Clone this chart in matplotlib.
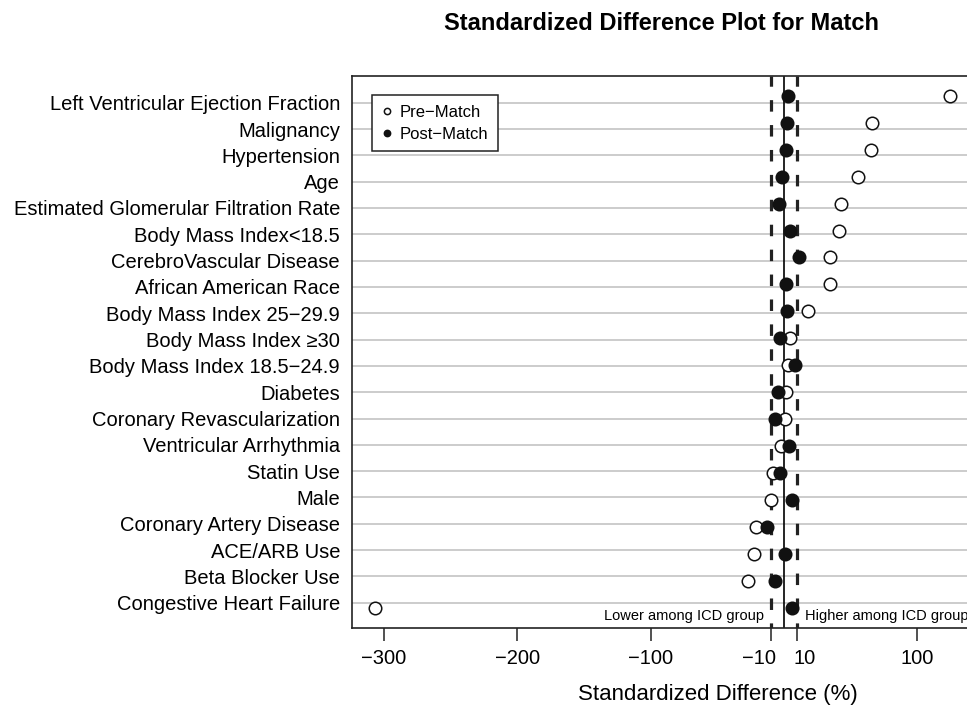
import matplotlib
matplotlib.use('Agg')
import matplotlib.pyplot as plt
from matplotlib.transforms import ScaledTranslation

plt.rcParams['font.family'] = ['Liberation Sans', 'DejaVu Sans']

variables = ["Left Ventricular Ejection Fraction", "Malignancy", "Hypertension", "Age",
             "Estimated Glomerular Filtration Rate", "Body Mass Index<18.5",
             "CerebroVascular Disease", "African American Race",
             "Body Mass Index 25\u221229.9", "Body Mass Index \u226530",
             "Body Mass Index 18.5\u221224.9", "Diabetes", "Coronary Revascularization",
             "Ventricular Arrhythmia", "Statin Use", "Male", "Coronary Artery Disease",
             "ACE/ARB Use", "Beta Blocker Use", "Congestive Heart Failure"]
pre_match = [124.5, 66.0, 65.5, 55.5, 42.5, 41.0, 34.5, 34.5, 18.3, 4.3,
             2.8, 1.3, 1.0, -1.8, -8.5, -9.3, -20.8, -22.5, -26.8, -307.0]
post_match = [3.2, 2.5, 1.7, -1.3, -3.5, 4.3, 11.0, 1.5, 2.3, -3.0,
              8.5, -4.5, -6.8, 4.0, -3.0, 6.0, -12.8, 0.8, -6.8, 6.3]
x_ticks = [-300, -200, -100, -10, 10, 100]
x_tick_labels = ["\u2212300", "\u2212200", "\u2212100", "\u221210", "10", "100"]
threshold = 10

n = len(variables)
pos = [n - 1 - i for i in range(n)]

fig = plt.figure(figsize=(9.67, 7.05), dpi=100)
ax = fig.add_axes([0.364, 0.1088, 0.641, 0.784])
ax.set_xlim(-324, 141)
ax.set_ylim(-0.97, 20.03)

ax.set_yticks(pos)
ax.set_yticklabels(variables, fontsize=14.5)
ax.tick_params(axis='y', length=0, pad=8.6)
ax.yaxis.grid(True, color='#c8c8c8', linewidth=1.3)
ax.set_axisbelow(True)

ax.set_xticks(x_ticks)
ax.set_xticklabels(x_tick_labels, fontsize=14.5)
ax.tick_params(axis='x', length=9, width=1.1, pad=6, direction='out', color='#222222')
# nudge the two crowded labels apart, as in the original
shifts = {"\u221210": -11.5, "10": 7.0}
for tick in ax.xaxis.get_major_ticks():
    lab = tick.label1
    if lab.get_text() in shifts:
        lab.set_transform(lab.get_transform() +
                          ScaledTranslation(shifts[lab.get_text()] / 100.0, 0, fig.dpi_scale_trans))

ax.set_xlabel("Standardized Difference (%)", fontsize=16)
ax.xaxis.set_label_coords(0.59, -0.101)

for s in ax.spines.values():
    s.set_linewidth(1.2)
    s.set_color('#222222')

ax.axvline(0, color='black', linewidth=1.2, zorder=2)
for t in (-threshold, threshold):
    ax.axvline(t, color='#222222', linewidth=2.3, linestyle=(2, (3.6, 4.2)), zorder=2)

ax.text(-threshold - 5, -0.49, "Lower among ICD group", ha='right', va='center', fontsize=10.5)
ax.text(threshold + 6, -0.49, "Higher among ICD group", ha='left', va='center', fontsize=10.5)

ax.set_title("Standardized Difference Plot for Match", fontsize=17, fontweight='bold', pad=33)

# markers
ax2 = ax.twinx()
ax2.set_ylim(-0.76, 19.75)
ax2.set_axis_off()
ax2.plot(pre_match, pos, linestyle='none', marker='o', markersize=9,
         markerfacecolor='white', markeredgecolor='#111111', markeredgewidth=1.1,
         label="Pre\u2212Match", zorder=3)
ax2.plot(post_match, pos, linestyle='none', marker='o', markersize=9,
         markerfacecolor='#111111', markeredgecolor='#111111', markeredgewidth=1.1,
         label="Post\u2212Match", zorder=4)

leg = ax2.legend(loc='upper left', bbox_to_anchor=(0.033, 0.964), borderaxespad=0,
                 fontsize=12, markerscale=0.5, handlelength=0.6, handletextpad=0.5,
                 labelspacing=0.45, borderpad=0.55, fancybox=False, framealpha=1,
                 edgecolor='#222222')
leg.get_frame().set_linewidth(1.1)

fig.savefig('out.png', dpi=100)
